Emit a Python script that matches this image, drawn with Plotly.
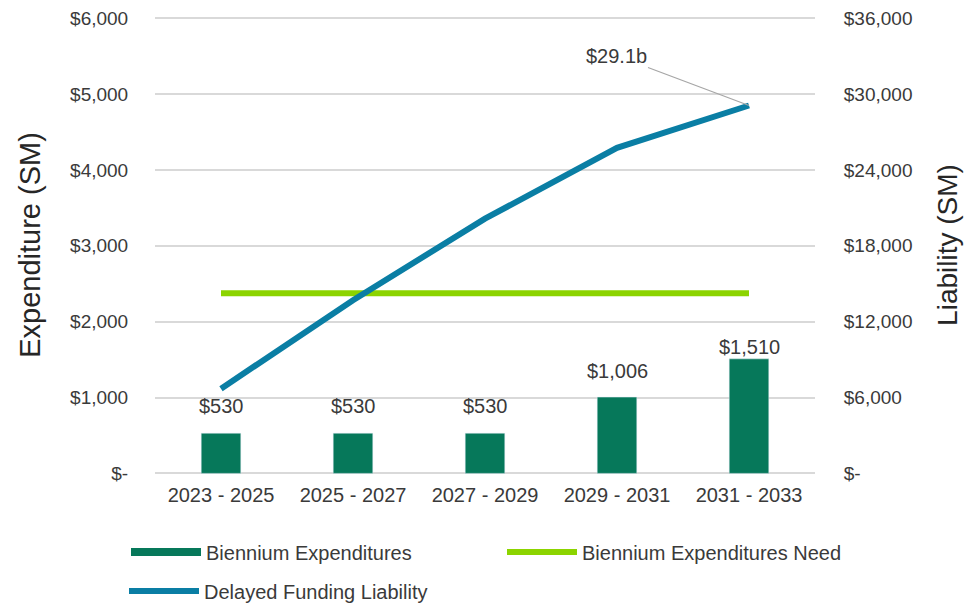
import plotly.graph_objects as go

categories = ["2023 - 2025", "2025 - 2027", "2027 - 2029", "2029 - 2031", "2031 - 2033"]
expenditures = [530, 530, 530, 1006, 1510]
expenditure_labels = ["$530", "$530", "$530", "$1,006", "$1,510"]
expenditures_need = [2375, 2375, 2375, 2375, 2375]
liability = [6700, 13700, 20150, 25750, 29100]
liability_callout = "$29.1b"

left_tickvals = [0, 1000, 2000, 3000, 4000, 5000, 6000]
left_ticktext = ["$-", "$1,000", "$2,000", "$3,000", "$4,000", "$5,000", "$6,000"]
right_tickvals = [0, 6000, 12000, 18000, 24000, 30000, 36000]
right_ticktext = ["$-", "$6,000", "$12,000", "$18,000", "$24,000", "$30,000", "$36,000"]

# label offsets above bar tops (px) - styling only
label_yshift = [27, 27, 27, 26, 12]

C_BAR = "#06785A"
C_NEED = "#8CD400"
C_LIAB = "#0A7EA4"
GRID = "#D9D9D9"
FONT = "Liberation Sans, Arial, sans-serif"
TXT = "#3A3A3A"

# the page body has an 8px margin, so the figure is sized to fit the 980x603 window
W, H = 972, 595

fig = go.Figure()
fig.add_trace(go.Bar(x=categories, y=expenditures, marker_color=C_BAR, width=0.30,
                     name="Biennium Expenditures", showlegend=False, yaxis="y"))
# legend key for bars (drawn as a thick line key, as in the reference)
fig.add_trace(go.Scatter(x=[None], y=[None], mode="lines", line=dict(color=C_BAR, width=8),
                         name="Biennium Expenditures", legend="legend", yaxis="y"))
fig.add_trace(go.Scatter(x=categories, y=expenditures_need, mode="lines",
                         line=dict(color=C_NEED, width=6), name="Biennium Expenditures Need",
                         legend="legend2", yaxis="y"))
fig.add_trace(go.Scatter(x=categories, y=liability, mode="lines",
                         line=dict(color=C_LIAB, width=6), name="Delayed Funding Liability",
                         legend="legend3", yaxis="y2"))

for c, v, t, s in zip(categories, expenditures, expenditure_labels, label_yshift):
    fig.add_annotation(x=c, y=v, text=t, showarrow=False, yref="y", yshift=s,
                       yanchor="middle", font=dict(family=FONT, size=20, color=TXT))

fig.add_annotation(x=categories[-1], y=liability[-1], yref="y2", text=liability_callout,
                   showarrow=True, arrowhead=0, arrowwidth=1.2, arrowcolor="#A6A6A6",
                   ax=-133, ay=-50, font=dict(family=FONT, size=20, color=TXT))

legend_common = dict(orientation="h", xref="container", yref="container",
                     xanchor="left", yanchor="middle", itemwidth=70,
                     font=dict(family=FONT, size=20, color=TXT), bgcolor="rgba(0,0,0,0)")

fig.update_layout(
    width=W, height=H,
    margin=dict(l=147, r=165, t=8, b=129, autoexpand=False),
    plot_bgcolor="white", paper_bgcolor="white",
    font=dict(family=FONT, size=19, color=TXT),
    xaxis=dict(showgrid=False, showline=False, ticks="outside", ticklen=3,
               tickcolor="rgba(0,0,0,0)", tickfont=dict(size=20, color=TXT), automargin=False),
    yaxis=dict(range=[-8, 6030], tickvals=left_tickvals, ticktext=left_ticktext,
               showgrid=True, gridcolor=GRID, gridwidth=1.5,
               zeroline=True, zerolinecolor=GRID, zerolinewidth=1.5,
               ticks="outside", ticklen=22, tickcolor="rgba(0,0,0,0)",
               ticklabeloverflow="allow", automargin=False,
               tickfont=dict(size=19, color=TXT),
               title=dict(text="Expenditure (SM)", font=dict(size=29, color="#262626"), standoff=20)),
    yaxis2=dict(range=[-48, 36180], tickvals=right_tickvals, ticktext=right_ticktext,
                overlaying="y", side="right", showgrid=False, zeroline=False,
                ticks="outside", ticklen=24, tickcolor="rgba(0,0,0,0)",
                ticklabeloverflow="allow", automargin=False,
                tickfont=dict(size=19, color=TXT),
                title=dict(text="Liability (SM)", font=dict(size=28, color="#262626"), standoff=25)),
    legend=dict(x=118 / W, y=1 - 544 / H, **legend_common),
    legend2=dict(x=494 / W, y=1 - 544 / H, **legend_common),
    legend3=dict(x=116 / W, y=1 - 583 / H, **legend_common),
)

fig.write_html("out.html")
